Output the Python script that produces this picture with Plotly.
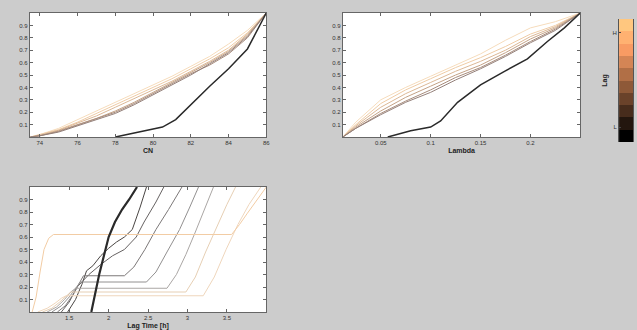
import plotly.graph_objects as go

# ---------------- data ----------------
CN_X = [73.5, 74, 75, 76, 77, 78, 79, 80, 81, 82, 83, 84, 85, 86]
CN_CURVES = [
    [0, 0.02, 0.07, 0.14, 0.21, 0.28, 0.35, 0.42, 0.49, 0.57, 0.65, 0.75, 0.86, 1],
    [0, 0.02, 0.06, 0.12, 0.19, 0.26, 0.33, 0.40, 0.47, 0.55, 0.63, 0.72, 0.84, 1],
    [0, 0.015, 0.055, 0.11, 0.17, 0.24, 0.31, 0.38, 0.45, 0.53, 0.61, 0.70, 0.83, 1],
    [0, 0.01, 0.05, 0.10, 0.15, 0.21, 0.28, 0.36, 0.44, 0.52, 0.60, 0.69, 0.82, 1],
    [0, 0.01, 0.045, 0.095, 0.15, 0.20, 0.27, 0.35, 0.43, 0.51, 0.58, 0.67, 0.80, 1],
    [0, 0.01, 0.04, 0.09, 0.14, 0.19, 0.26, 0.34, 0.42, 0.50, 0.59, 0.68, 0.81, 1],
]
CN_BLACK_X = [78, 79, 80, 80.5, 81.2, 82, 83, 84, 85, 86]
CN_BLACK_Y = [0, 0.03, 0.06, 0.08, 0.14, 0.26, 0.41, 0.55, 0.71, 1]

LAM_X = [0.012, 0.025, 0.05, 0.075, 0.1, 0.125, 0.15, 0.175, 0.2, 0.225, 0.25]
LAM_CURVES = [
    [0, 0.12, 0.30, 0.40, 0.49, 0.58, 0.67, 0.78, 0.88, 0.93, 1],
    [0, 0.10, 0.27, 0.38, 0.47, 0.56, 0.64, 0.73, 0.83, 0.90, 1],
    [0, 0.09, 0.24, 0.35, 0.44, 0.53, 0.61, 0.70, 0.81, 0.89, 1],
    [0, 0.08, 0.21, 0.32, 0.41, 0.50, 0.58, 0.68, 0.79, 0.88, 1],
    [0, 0.07, 0.19, 0.29, 0.38, 0.48, 0.56, 0.66, 0.77, 0.87, 1],
    [0, 0.07, 0.18, 0.28, 0.36, 0.46, 0.55, 0.65, 0.76, 0.86, 1],
]
LAM_BLACK_X = [0.057, 0.08, 0.1, 0.11, 0.127, 0.15, 0.174, 0.197, 0.217, 0.234, 0.25]
LAM_BLACK_Y = [0, 0.05, 0.08, 0.13, 0.28, 0.42, 0.53, 0.63, 0.77, 0.88, 1]

LAG_CURVES_X = [
    [1.48, 1.58, 1.66, 1.72, 1.8, 1.9, 2.0, 2.1, 2.2, 2.3, 2.4, 2.48],
    [1.4, 1.5, 1.6, 1.75, 1.9, 2.05, 2.2, 2.35, 2.45, 2.6, 2.7],
    [1.35, 1.45, 1.55, 1.62, 1.68, 2.2, 2.32, 2.46, 2.6, 2.76, 2.93],
    [1.28, 1.4, 1.5, 1.58, 1.64, 2.48, 2.6, 2.74, 2.9, 3.03, 3.14],
    [1.22, 1.34, 1.44, 1.52, 1.58, 2.74, 2.86, 2.98, 3.1, 3.23, 3.33],
    [1.16, 1.28, 1.38, 1.46, 1.52, 2.98, 3.1, 3.23, 3.37, 3.5, 3.61],
    [1.1, 1.22, 1.32, 1.4, 1.46, 3.2, 3.34, 3.49, 3.64, 3.78, 3.93],
    [1.03, 1.08, 1.13, 1.18, 1.24, 1.3, 3.56, 3.66, 3.76, 3.86, 3.96, 4.0],
]
LAG_CURVES_Y = [
    [0, 0.1, 0.22, 0.33, 0.37, 0.45, 0.51, 0.56, 0.6, 0.66, 0.84, 1.0],
    [0, 0.08, 0.2, 0.3, 0.38, 0.45, 0.5, 0.6, 0.72, 0.88, 1.0],
    [0, 0.05, 0.14, 0.22, 0.29, 0.29, 0.36, 0.5, 0.66, 0.82, 1.0],
    [0, 0.05, 0.12, 0.19, 0.24, 0.24, 0.32, 0.48, 0.66, 0.84, 1.0],
    [0, 0.04, 0.10, 0.16, 0.19, 0.19, 0.3, 0.46, 0.64, 0.85, 1.0],
    [0, 0.03, 0.08, 0.13, 0.16, 0.16, 0.28, 0.48, 0.68, 0.86, 1.0],
    [0, 0.03, 0.07, 0.11, 0.13, 0.13, 0.28, 0.5, 0.7, 0.86, 1.0],
    [0, 0.12, 0.32, 0.5, 0.59, 0.62, 0.62, 0.7, 0.79, 0.88, 0.97, 1.0],
]
LAG_BLACK_X = [1.78, 1.88, 2.0, 2.08, 2.17, 2.26, 2.36]
LAG_BLACK_Y = [0, 0.3, 0.6, 0.72, 0.82, 0.9, 1.0]

CN_TICKS = [74, 76, 78, 80, 82, 84, 86]
LAM_TICKS = [0.05, 0.1, 0.15, 0.2]
LAG_TICKS = [1.5, 2, 2.5, 3, 3.5]
Y_TICKS = [0.1, 0.2, 0.3, 0.4, 0.5, 0.6, 0.7, 0.8, 0.9]
CBAR_LEVELS = list(range(10))
CBAR_TICKTEXT = ["H", "L"]

# ---------------- styles ----------------
TOP_COLORS = ["#f6dcbc", "#efcca6", "#dcb896", "#c4a286", "#a88c7c", "#94807a"]
LAG_COLORS = ["#4a4644", "#666262", "#7c7878", "#929090", "#aaa6a4", "#e6cfb4",
              "#efd6bc", "#f2cca4"]

def copper(t):
    r = min(1.0, 1.25 * t)
    g = 0.7812 * t
    b = 0.4975 * t
    return "rgb(%d,%d,%d)" % (round(r * 255), round(g * 255), round(b * 255))

n = len(CBAR_LEVELS)
cscale = []
for i in range(n):
    c = copper(i / (n - 1))
    cscale.append([i / n, c])
    cscale.append([(i + 1) / n, c])
cscale[-1][0] = 1.0

fig = go.Figure()

for ys, col in zip(CN_CURVES, TOP_COLORS):
    fig.add_trace(go.Scatter(x=CN_X, y=ys, mode="lines", line=dict(color=col, width=1),
                             xaxis="x", yaxis="y", showlegend=False, hoverinfo="skip"))
fig.add_trace(go.Scatter(x=CN_BLACK_X, y=CN_BLACK_Y, mode="lines",
                         line=dict(color="#2a2a2a", width=1.5),
                         xaxis="x", yaxis="y", showlegend=False))

for ys, col in zip(LAM_CURVES, TOP_COLORS):
    fig.add_trace(go.Scatter(x=LAM_X, y=ys, mode="lines", line=dict(color=col, width=1),
                             xaxis="x2", yaxis="y2", showlegend=False, hoverinfo="skip"))
fig.add_trace(go.Scatter(x=LAM_BLACK_X, y=LAM_BLACK_Y, mode="lines",
                         line=dict(color="#2a2a2a", width=1.5),
                         xaxis="x2", yaxis="y2", showlegend=False))

for xs, ys, col in zip(LAG_CURVES_X, LAG_CURVES_Y, LAG_COLORS):
    fig.add_trace(go.Scatter(x=xs, y=ys, mode="lines", line=dict(color=col, width=1),
                             xaxis="x3", yaxis="y3", showlegend=False, hoverinfo="skip"))
fig.add_trace(go.Scatter(x=LAG_BLACK_X, y=LAG_BLACK_Y, mode="lines",
                         line=dict(color="#2a2a2a", width=2.2),
                         xaxis="x3", yaxis="y3", showlegend=False))

fig.add_trace(go.Heatmap(z=[[v] for v in CBAR_LEVELS], y=CBAR_LEVELS, x=[0],
                         colorscale=cscale, zmin=-0.5, zmax=n - 0.5, showscale=False,
                         xaxis="x4", yaxis="y4", hoverinfo="skip"))

FONT = "Liberation Sans, Arial, sans-serif"
tickfont = dict(family=FONT, size=6, color="#333333")
titlefont = dict(family=FONT, size=7, color="#222222")

def ax(domain, rng, tickvals, ticktext=None, anchor=None, title=None, standoff=2):
    d = dict(domain=domain, range=rng, tickvals=tickvals, anchor=anchor,
             showgrid=False, zeroline=False, showline=True, mirror="ticks",
             linecolor="#666666", linewidth=1, ticks="inside", ticklen=3,
             tickcolor="#666666", tickfont=tickfont, fixedrange=True)
    if ticktext is not None:
        d["ticktext"] = ticktext
    if title:
        d["title"] = dict(text=title, font=titlefont, standoff=standoff)
    return d

Y_TEXT = [str(v) for v in Y_TICKS]

fig.update_layout(
    width=637, height=330, autosize=False,
    margin=dict(l=0, r=0, t=0, b=0),
    paper_bgcolor="#cccccc", plot_bgcolor="#ffffff",
    xaxis=ax([0.0471, 0.4207], [73.47, 86], CN_TICKS, [str(v) for v in CN_TICKS], "y", "<b>CN</b>"),
    yaxis=ax([0.5848, 0.9606], [0, 1], Y_TICKS, Y_TEXT, "x"),
    xaxis2=ax([0.5416, 0.9168], [0.012, 0.25], LAM_TICKS, [str(v) for v in LAM_TICKS], "y2", "<b>Lambda</b>"),
    yaxis2=ax([0.5848, 0.9606], [0, 1], Y_TICKS, Y_TEXT, "x2"),
    xaxis3=ax([0.0471, 0.4207], [1, 4], LAG_TICKS, [str(v) for v in LAG_TICKS], "y3", "<b>Lag Time [h]</b>"),
    yaxis3=ax([0.0545, 0.4333], [0, 1], Y_TICKS, Y_TEXT, "x3"),
    xaxis4=dict(domain=[0.978, 1.0], anchor="y4", visible=False, range=[-0.5, 0.5], fixedrange=True),
    yaxis4=dict(domain=[0.5697, 0.9424], anchor="x4", range=[-0.5, n - 0.5],
                tickvals=[8.4, 0.7], ticktext=CBAR_TICKTEXT, ticks="inside", ticklen=2,
                tickfont=tickfont, showgrid=False, zeroline=False, showline=True,
                linecolor="#555555", mirror=True, fixedrange=True,
                title=dict(text="<b>Lag</b>", font=titlefont, standoff=4)),
)

fig.write_html("out.html", config={"displayModeBar": False},
               post_script="document.body.style.margin='0';document.body.style.background='#cccccc';")
